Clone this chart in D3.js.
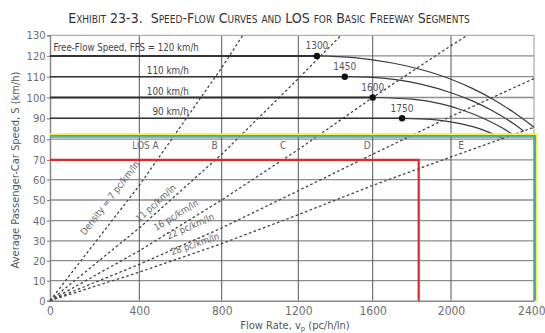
<!DOCTYPE html>
<html>
<head>
<meta charset="utf-8">
<script src="https://cdn.jsdelivr.net/npm/d3@7"></script>
<style>
  body { margin: 0; background: #fff; }
  svg { display: block; }
  text { font-family: "Liberation Sans Narrow", "DejaVu Sans Condensed", sans-serif; }
</style>
</head>
<body>
<svg id="chart" width="545" height="333"></svg>
<script>
// ---- data ---------------------------------------------------------------
// Axis ticks: flow rate (pc/h/ln) and average passenger-car speed (km/h)
const flowTicks  = [0, 400, 800, 1200, 1600, 2000, 2400];
const speedTicks = [0, 10, 20, 30, 40, 50, 60, 70, 80, 90, 100, 110, 120, 130];

// Free-flow speeds and the flow at which each curve starts to drop
const ffsSpeeds     = [120, 110, 100, 90];
const ffsBreakFlows = [1300, 1450, 1600, 1750];
const ffsLabels     = ["Free-Flow Speed, FFS = 120 km/h", "110 km/h", "100 km/h", "90 km/h"];

// Speed-flow curves beyond the breakpoint: [flow, speed]
const curve120 = [[1300, 120], [1500, 119.2], [1700, 116.6], [1900, 112.0], [2100, 104.5], [2200, 99.3], [2300, 93.0], [2400, 85.7]];
const curve110 = [[1450, 110], [1650, 109.3], [1850, 106.3], [2000, 102.3], [2100, 98.5], [2200, 93.6], [2300, 87.5], [2350, 83.9]];
const curve100 = [[1600, 100], [1800, 99.2], [1950, 96.9], [2050, 94.1], [2150, 90.3], [2250, 85.2], [2300, 82.1]];
const curve90  = [[1750, 90], [1900, 89.5], [2050, 87.3], [2150, 84.6], [2250, 80.4]];

// Density boundaries between LOS (pc/km/ln)
const densities     = [7, 11, 16, 22, 28];
const densityLabels = ["Density = 7 pc/km/ln", "11 pc/km/ln", "16 pc/km/ln", "22 pc/km/ln", "28 pc/km/ln"];

// LOS letters
const losLabels = ["LOS A", "B", "C", "D", "E"];

// Highlighted envelope lines: [speed, flow] corner
const envelopeYellow = [82.3, 2412];
const envelopeGreen  = [81.6, 2405];
const envelopeBlue   = [81.0, 2400];
// Operating point box (red): speed 70 km/h, flow 1835 pc/h/ln
const opSpeed = 70;
const opFlow  = 1835;

// ---- placement (label anchors in data units) ----------------------------
const densityLabelPos = [[268, 51], [480, 48.5], [578, 42.7], [648, 37.2], [670, 28.4]];
const losLabelFlows   = [430, 766, 1121, 1570, 2049];
const losLabelSpeed   = 75.3;
const ffsLabelFlow    = 640;

// ---- scales --------------------------------------------------------------
const svg = d3.select("#chart");
const x = d3.scaleLinear().domain(flowTicks).range([50, 139.3, 221.7, 298.3, 372.7, 451, 534]);
const y = d3.scaleLinear().domain(speedTicks)
  .range([300.7, 280.7, 260.7, 240.8, 220.6, 200, 179.6, 159.9, 139.2, 118.3, 97.5, 76.7, 55.9, 35.3]);

const X0 = x(0), X1 = x(2400), Y0 = y(0), Y1 = y(130);

// ---- title --------------------------------------------------------------
svg.append("text")
  .attr("x", 269).attr("y", 22.5)
  .attr("text-anchor", "middle")
  .style("font-size", "14px")
  .style("font-variant", "small-caps")
  .style("white-space", "pre")
  .attr("fill", "#333")
  .text("Exhibit 23-3.  Speed-Flow Curves and LOS for Basic Freeway Segments");

// ---- grid ---------------------------------------------------------------
const grid = svg.append("g");
grid.selectAll("line.h").data(speedTicks.filter(v => v > 0 && v < 130)).join("line")
  .attr("x1", X0).attr("x2", X1)
  .attr("y1", d => y(d)).attr("y2", d => y(d))
  .attr("stroke", "#8c8c8c").attr("stroke-width", 1.3);
grid.selectAll("line.v").data(flowTicks.filter(v => v > 0 && v < 2400)).join("line")
  .attr("x1", d => x(d)).attr("x2", d => x(d))
  .attr("y1", Y0).attr("y2", Y1)
  .attr("stroke", "#555").attr("stroke-width", 1);
// frame top and right
grid.append("path")
  .attr("d", `M${X0},${Y1}H${X1}V${Y0}`)
  .attr("fill", "none").attr("stroke", "#999").attr("stroke-width", 1);

// ---- axes ---------------------------------------------------------------
const yAxis = svg.append("g").attr("transform", `translate(${X0},0)`)
  .call(d3.axisLeft(y).tickValues(speedTicks).tickFormat(d3.format("d")).tickSize(3).tickPadding(1.5));
yAxis.select(".domain").attr("stroke", "#888").attr("stroke-width", 1.5);
yAxis.selectAll(".tick line").attr("stroke", "#888").attr("stroke-width", 1.2);
yAxis.selectAll(".tick text").attr("fill", "#6e6e6e")
  .style("font-size", "11px").style("font-family", "Liberation Sans Narrow, DejaVu Sans Condensed, sans-serif");

const xAxis = svg.append("g").attr("transform", `translate(0,${Y0})`)
  .call(d3.axisBottom(x).tickValues(flowTicks).tickFormat(d3.format("d")).tickSize(0).tickPadding(6));
xAxis.select(".domain").attr("stroke", "#888").attr("stroke-width", 1.5);
xAxis.selectAll(".tick text").attr("fill", "#6e6e6e")
  .style("font-size", "12px").style("font-family", "Liberation Sans Narrow, DejaVu Sans Condensed, sans-serif");
// keep the last flow label inside the page edge
xAxis.selectAll(".tick text").filter(d => d === 2400).attr("text-anchor", "end").attr("x", 11);

// axis titles
const xt = svg.append("text")
  .attr("x", 295).attr("y", 328.5).attr("text-anchor", "middle")
  .attr("fill", "#555").style("font-size", "11px");
xt.append("tspan").text("Flow Rate, v");
xt.append("tspan").attr("dy", 2.5).style("font-size", "7.5px").text("p");
xt.append("tspan").attr("dy", -2.5).text(" (pc/h/ln)");

svg.append("text")
  .attr("transform", `translate(19,${(Y0 + Y1) / 2 + 2}) rotate(-90)`)
  .attr("text-anchor", "middle").attr("fill", "#555")
  .style("font-size", "11px")
  .text("Average Passenger-Car Speed, S (km/h)");

// ---- density lines ------------------------------------------------------
const lineGen = d3.line().x(d => x(d[0])).y(d => y(d[1]));
densities.forEach(k => {
  const endFlow = Math.min(2400, 130 * k);
  const pts = [0, ...flowTicks.filter(f => f > 0 && f < endFlow), endFlow].map(f => [f, f / k]);
  svg.append("path").attr("d", lineGen(pts))
    .attr("fill", "none").attr("stroke", "#444")
    .attr("stroke-width", 1.3).attr("stroke-dasharray", "2.6,2.4");
});

densities.forEach((k, i) => {
  const [f, s] = densityLabelPos[i];
  // local direction of the density line near the label
  const fa = f - 60, fb = f + 60;
  const ang = Math.atan2(y(fb / k) - y(fa / k), x(fb) - x(fa)) * 180 / Math.PI;
  svg.append("text")
    .attr("transform", `translate(${x(f)},${y(s)}) rotate(${ang})`)
    .attr("text-anchor", "middle").attr("dy", "0.35em")
    .attr("fill", "#666").style("font-size", "9.5px")
    .text(densityLabels[i]);
});

// ---- speed-flow curves --------------------------------------------------
ffsSpeeds.forEach((s, i) => {
  svg.append("line")
    .attr("x1", X0).attr("x2", x(ffsBreakFlows[i]))
    .attr("y1", y(s)).attr("y2", y(s))
    .attr("stroke", "#333").attr("stroke-width", (s === 120 || s === 100) ? 2 : 1.6);
});
const curveGen = d3.line().x(d => x(d[0])).y(d => y(d[1])).curve(d3.curveMonotoneX);
[curve120, curve110, curve100, curve90].forEach(c => {
  svg.append("path").attr("d", curveGen(c))
    .attr("fill", "none").attr("stroke", "#3a3a3a").attr("stroke-width", 1.2);
});

// breakpoints
svg.selectAll("circle.bp").data(ffsBreakFlows).join("circle")
  .attr("cx", (d) => x(d)).attr("cy", (d, i) => y(ffsSpeeds[i]))
  .attr("r", 3.2).attr("fill", "#111");
svg.selectAll("text.bp").data(ffsBreakFlows).join("text")
  .attr("x", d => x(d)).attr("y", (d, i) => y(ffsSpeeds[i]) - 6.5)
  .attr("text-anchor", "middle").attr("fill", "#555")
  .style("font-size", "10px")
  .text(d => d);

// FFS labels
svg.append("text").attr("x", X0 + 3.5).attr("y", y(120) - 5)
  .attr("fill", "#444").style("font-size", "9.6px").text(ffsLabels[0]);
ffsSpeeds.slice(1).forEach((s, i) => {
  svg.append("text").attr("x", x(ffsLabelFlow)).attr("y", y(s) - 3)
    .attr("text-anchor", "end").attr("fill", "#444")
    .style("font-size", "9.8px").text(ffsLabels[i + 1]);
});

// LOS letters
losLabels.forEach((t, i) => {
  svg.append("text").attr("x", x(losLabelFlows[i])).attr("y", y(losLabelSpeed))
    .attr("text-anchor", "middle").attr("fill", "#666")
    .style("font-size", "10px").text(t);
});

// ---- highlighted lines --------------------------------------------------
[[envelopeYellow, "#f4f04a", 2.4], [envelopeGreen, "#45b55a", 1.8], [envelopeBlue, "#3aa6d8", 1.2]]
  .forEach(([[s, f], col, w]) => {
    svg.append("path")
      .attr("d", `M${X0},${y(s)}H${x(f)}V${Y0}`)
      .attr("fill", "none").attr("stroke", col).attr("stroke-width", w);
  });

svg.append("path")
  .attr("d", `M${X0},${y(opSpeed)}H${x(opFlow)}V${Y0}`)
  .attr("fill", "none").attr("stroke", "#e3262b").attr("stroke-width", 2.2);
</script>
</body>
</html>
